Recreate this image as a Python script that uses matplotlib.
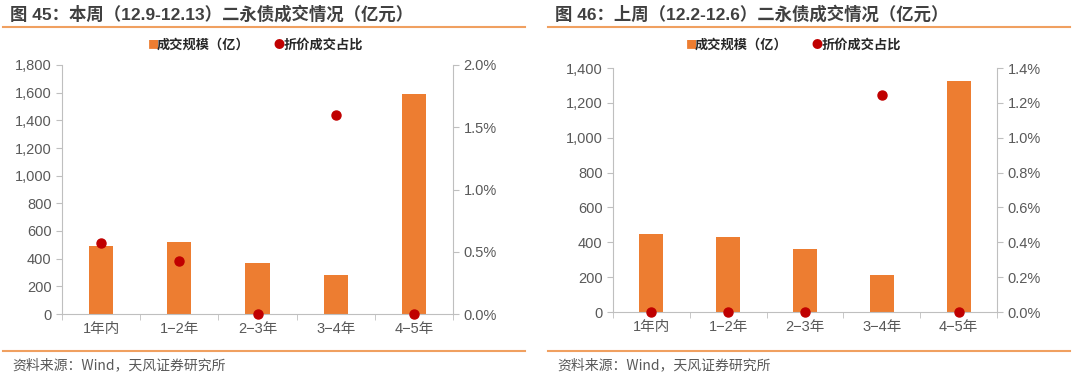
import numpy as np
import matplotlib.pyplot as plt
from matplotlib.ticker import FuncFormatter

plt.rcParams["font.family"] = ["Liberation Sans", "Noto Sans CJK SC", "DejaVu Sans"]
plt.rcParams["axes.unicode_minus"] = False

categories = ["1年内", "1−2年", "2−3年", "3−4年", "4−5年"]

# 本周 (12.9-12.13)
vol_this = [495, 520, 366, 284, 1588]
pct_this = [0.573, 0.428, 0.0, 1.596, 0.0]

# 上周 (12.2-12.6)
vol_last = [446, 433, 360, 215, 1326]
pct_last = [0.0, 0.0, 0.0, 1.247, 0.0]

titles = ["图 45：本周（12.9-12.13）二永债成交情况（亿元）",
          "图 46：上周（12.2-12.6）二永债成交情况（亿元）"]
source = "资料来源：Wind，天风证券研究所"

BAR_C = "#ED7D31"
DOT_C = "#C00000"
TXT_C = "#595959"
AX_C = "#BFBFBF"
LINE_C = "#F0A060"
CJK = ["Noto Sans CJK SC", "DejaVu Sans"]

W, H = 1080, 378
fig = plt.figure(figsize=(W / 100, H / 100), dpi=100)


def fx(px):
    return px / W


def fy(py):
    return 1 - py / H


def draw_panel(x0, box, vols, pcts, ymax, ystep, pmax, pstep, title, leg_x):
    # title + orange rules
    fig.text(fx(x0 + 10), fy(14), title, fontsize=12.5, color="#404040",
             va="center", ha="left", fontweight="bold")
    fig.add_artist(plt.Line2D([fx(x0 + 3), fx(x0 + 525)], [fy(27), fy(27)],
                              color=LINE_C, lw=1.5, transform=fig.transFigure))
    fig.add_artist(plt.Line2D([fx(x0 + 3), fx(x0 + 525)], [fy(351), fy(351)],
                              color=LINE_C, lw=1.5, transform=fig.transFigure))
    fig.text(fx(x0 + 12), fy(365), source, fontsize=10, color=TXT_C,
             va="center", ha="left", family=CJK)

    # legend drawn by hand to match spacing
    fig.text(fx(leg_x), fy(45), "■", fontsize=8, color=BAR_C, va="center", ha="left", family=CJK)
    fig.text(fx(leg_x + 9), fy(45), "成交规模（亿）", fontsize=9.5, color="#262626",
             va="center", ha="left", fontweight="bold", family=CJK)
    fig.text(fx(leg_x + 126), fy(45), "●", fontsize=8, color=DOT_C, va="center", ha="left", family=CJK)
    fig.text(fx(leg_x + 136), fy(45), "折价成交占比", fontsize=9.5, color="#262626",
             va="center", ha="left", fontweight="bold", family=CJK)

    l, t, r, b = box
    ax = fig.add_axes([fx(l), fy(b), fx(r - l), fy(t) - fy(b)])
    x = np.arange(len(categories))
    ax.bar(x, vols, width=0.31, color=BAR_C, zorder=2)
    ax.set_xlim(-0.5, len(categories) - 0.5)
    ax.set_ylim(0, ymax)
    ax.set_yticks(np.arange(0, ymax + 1, ystep))
    ax.yaxis.set_major_formatter(FuncFormatter(lambda v, p: f"{int(v):,}"))
    ax.set_xticks(x)
    ax.set_xticklabels(categories)
    ax.set_xticks(np.arange(-0.5, len(categories)), minor=True)
    ax.tick_params(axis="x", which="major", length=0, labelsize=10.5, colors=TXT_C, pad=6)
    ax.tick_params(axis="x", which="minor", length=4, color=AX_C)
    ax.tick_params(axis="y", length=4, color=AX_C, labelsize=10.5, labelcolor=TXT_C)
    for s in ["top", "right"]:
        ax.spines[s].set_visible(False)
    for s in ["left", "bottom"]:
        ax.spines[s].set_color(AX_C)

    ax2 = ax.twinx()
    ax2.plot(x, pcts, "o", color=DOT_C, ms=6.5, clip_on=False, zorder=5)
    ax2.set_ylim(0, pmax)
    ax2.set_yticks(np.arange(0, pmax + 1e-9, pstep))
    ax2.yaxis.set_major_formatter(FuncFormatter(lambda v, p: f"{v:.1f}%"))
    ax2.tick_params(axis="y", length=4, color=AX_C, labelsize=10.5, labelcolor=TXT_C)
    for s in ["top", "left", "bottom"]:
        ax2.spines[s].set_visible(False)
    ax2.spines["right"].set_color(AX_C)
    return ax, ax2


draw_panel(0, (62, 65, 453, 314), vol_this, pct_this, 1800, 200, 2.0, 0.5,
           titles[0], 148)
draw_panel(545, (613, 68, 997, 312), vol_last, pct_last, 1400, 200, 1.4, 0.2,
           titles[1], 686)

fig.savefig("out.png", dpi=100)
